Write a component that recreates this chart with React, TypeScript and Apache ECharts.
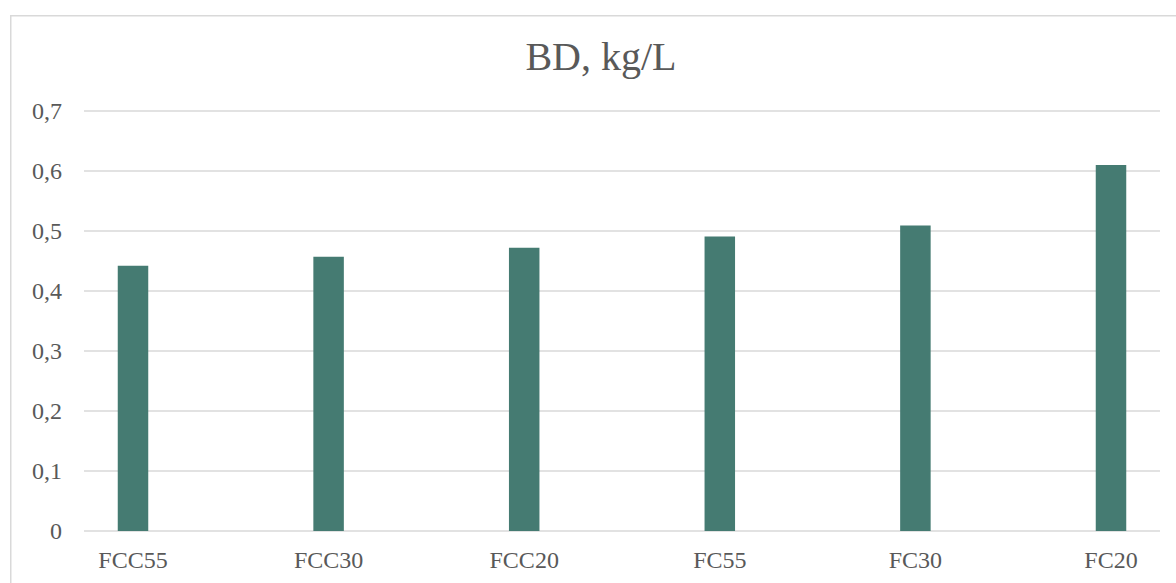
import React, { useEffect, useRef } from "react";
import * as echarts from "echarts";

const categories = ["FCC55", "FCC30", "FCC20", "FC55", "FC30", "FC20"];
const bulkDensity = [0.442, 0.457, 0.472, 0.491, 0.509, 0.61];
const yTicks = { min: 0, max: 0.7, step: 0.1 };
const chartTitle = "BD, kg/L";

const FONT = "'Liberation Serif', Georgia, serif";
const TEXT = "#595959";
const GRID_LINE = "#d9d9d9";
const BAR = "#457b72";

// The chart canvas is wider than the window; the category band runs past its right edge.
const CANVAS_W = 1240;
const CANVAS_H = 583;

export default function App() {
  const ref = useRef<HTMLDivElement>(null);

  useEffect(() => {
    if (!ref.current) return;
    const chart = echarts.init(ref.current, undefined, { renderer: "svg" });
    const fmt = (v: number) => (v === 0 ? "0" : v.toFixed(1).replace(".", ","));
    chart.setOption({
      animation: false,
      backgroundColor: "#ffffff",
      textStyle: { fontFamily: FONT },
      graphic: [
        {
          type: "rect",
          shape: { x: 10.75, y: 15.75, width: 1300, height: 700 },
          style: { fill: "none", stroke: GRID_LINE, lineWidth: 1.5 },
          silent: true,
          z: -1,
        },
        {
          type: "text",
          x: 601,
          y: 56,
          style: {
            text: chartTitle,
            fontFamily: FONT,
            fontSize: 40,
            fill: TEXT,
            textAlign: "center",
            textVerticalAlign: "middle",
          },
        },
      ],
      grid: [
        { left: 84, right: CANVAS_W - 1160, top: 111, bottom: CANVAS_H - 531 },
        { left: 35.2, right: CANVAS_W - 1208.8, top: 111, bottom: CANVAS_H - 531 },
      ],
      xAxis: [
        { type: "value", gridIndex: 0, show: false, min: 0, max: 1 },
        {
          type: "category",
          gridIndex: 1,
          data: categories,
          axisLine: { show: false },
          axisTick: { show: false },
          splitLine: { show: false },
          axisLabel: {
            color: TEXT,
            fontFamily: FONT,
            fontSize: 24,
            margin: 17,
          },
        },
      ],
      yAxis: [
        {
          type: "value",
          gridIndex: 0,
          min: yTicks.min,
          max: yTicks.max,
          interval: yTicks.step,
          axisLine: { show: false },
          axisTick: { show: false },
          splitLine: { lineStyle: { color: GRID_LINE, width: 1.5 } },
          axisLabel: {
            color: TEXT,
            fontFamily: FONT,
            fontSize: 24,
            margin: 22,
            formatter: fmt,
          },
        },
        {
          type: "value",
          gridIndex: 1,
          min: yTicks.min,
          max: yTicks.max,
          interval: yTicks.step,
          show: false,
        },
      ],
      series: [
        {
          type: "bar",
          xAxisIndex: 1,
          yAxisIndex: 1,
          data: bulkDensity,
          barWidth: 30.5,
          itemStyle: { color: BAR },
        },
      ],
    });
    return () => chart.dispose();
  }, []);

  return (
    <div
      ref={ref}
      style={{ position: "fixed", left: 0, top: 0, width: CANVAS_W, height: CANVAS_H }}
    />
  );
}
